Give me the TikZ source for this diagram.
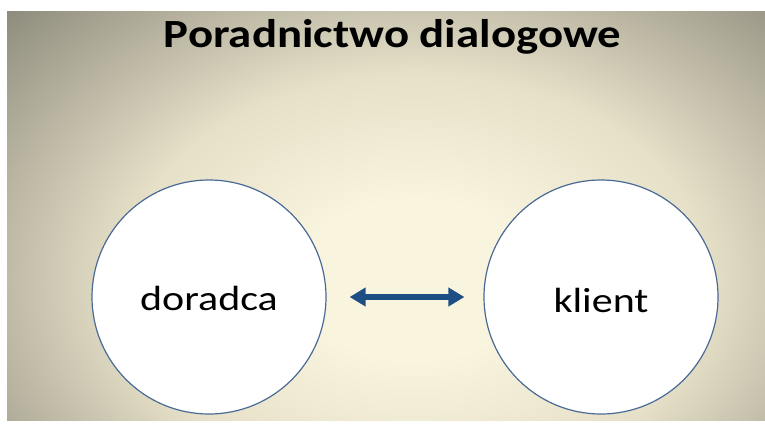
\documentclass[tikz,border=0pt]{standalone}
\usepackage{fontspec}
\setmainfont{Carlito}
\usetikzlibrary{arrows.meta}
\definecolor{bgin}{HTML}{F9F4DE}
\definecolor{bgmid}{HTML}{E6E0C8}
\definecolor{bgout}{HTML}{8C8A7B}
\definecolor{ringblue}{HTML}{4A6A96}
\definecolor{arrowblue}{HTML}{1F4E84}
\pgfdeclareradialshading{bgshade}{\pgfpoint{0bp}{0bp}}{color(0bp)=(bgin); color(5bp)=(bgin); color(13bp)=(bgmid); color(25bp)=(bgout); color(50bp)=(bgout)}
\tikzset{
  person/.style={circle, draw=ringblue, line width=1.2pt, fill=white, minimum size=234pt, inner sep=0pt},
  wordtext/.style={font=\fontsize{35}{40}\selectfont, xscale=1.2, inner sep=0pt, anchor=base},
  title/.style={font=\bfseries\fontsize{40}{46}\selectfont, xscale=1.17, inner sep=0pt, anchor=base},
  dialog/.style={{Triangle[width=18pt,length=16pt]}-{Triangle[width=18pt,length=16pt]}, draw=arrowblue, line width=6pt}
}
\begin{document}
\begin{tikzpicture}[x=1pt,y=-1pt]
\useasboundingbox (0,0) rectangle (765,423);
\fill[white] (0,0) rectangle (765,423);
\begin{scope}
  \clip (7,11) rectangle (765,420);
  \fill[bgout] (7,11) rectangle (765,420);
  \shade[shading=bgshade] (415,280) ellipse (560 and 400);
\end{scope}
\node[title] (t) at (392.5,47.5) {Poradnictwo dialogowe};
\node[person] (l) at (209,297) {};
\node[person] (r) at (601,297) {};
\node[wordtext] (lt) at (l.center |- 0,310) {doradca};
\node[wordtext] (rt) at (r.center |- 0,312) {klient};
\draw[dialog, shorten <=23pt, shorten >=19pt] (l.east) -- (r.west);
\end{tikzpicture}
\end{document}
